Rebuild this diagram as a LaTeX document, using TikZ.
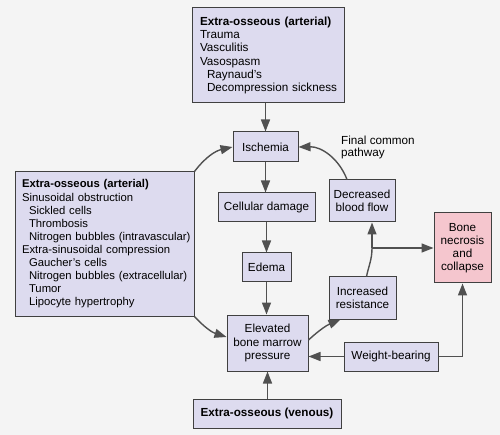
\documentclass[tikz,border=0pt]{standalone}
\usepackage{fontspec}
\setmainfont{Liberation Sans}
\usetikzlibrary{arrows.meta}
\definecolor{bg}{HTML}{F4F4F4}
\definecolor{boxfill}{HTML}{DDDBEF}
\definecolor{pinkfill}{HTML}{F5C6CE}
\definecolor{edge}{HTML}{404040}
\definecolor{linec}{HTML}{505050}
\begin{document}
\begin{tikzpicture}[x=1pt,y=1pt,
  font=\fontsize{11.7}{13.2}\selectfont,
  box/.style={draw=edge, fill=boxfill, line width=1pt, inner sep=2pt, align=center},
  lbox/.style={box, align=left},
  line/.style={draw=linec, line width=1.4pt},
  arr/.style={line, -{Triangle[length=12pt,width=9pt]}}]
\fill[bg] (0,0) rectangle (500,-435);
\useasboundingbox (0,0) rectangle (500,-435);

\node[lbox, text width=136, inner xsep=8, minimum height=95] (top) at (268,-55.5)
  {\textbf{Extra-osseous (arterial)}\\Trauma\\Vasculitis\\Vasospasm\\\hspace*{7pt}Raynaud's\\\hspace*{7pt}\mbox{Decompression sickness}};
\node[lbox, text width=165, inner xsep=7, minimum height=144, font=\fontsize{11.3}{13.1}\selectfont] (left) at (104.5,-244)
  {\textbf{Extra-osseous (arterial)}\\Sinusoidal obstruction\\\hspace*{7pt}Sickled cells\\\hspace*{7pt}Thrombosis\\\hspace*{7pt}\mbox{Nitrogen bubbles (intravascular)}\\\mbox{Extra-sinusoidal compression}\\\hspace*{7pt}Gaucher's cells\\\hspace*{7pt}\mbox{Nitrogen bubbles (extracellular)}\\\hspace*{7pt}Tumor\\\hspace*{7pt}Lipocyte hypertrophy};

\node[box, minimum width=65, minimum height=30] (isch) at (265.5,-147) {Ischemia};
\node[box, minimum width=97, minimum height=29] (cell) at (266.5,-207.5) {Cellular damage};
\node[box, minimum width=49, minimum height=29] (edema) at (266.5,-267.5) {Edema};
\node[box, minimum width=81, minimum height=56] (elev) at (267.5,-343) {Elevated\\bone marrow\\pressure};
\node[box, minimum width=148, minimum height=29] (ven) at (267,-413.5) {\textbf{Extra-osseous (venous)}};
\node[box, minimum width=94, minimum height=29] (weight) at (391,-356.5) {Weight-bearing};
\node[box, minimum width=67, minimum height=42] (inc) at (362.5,-298) {Increased\\resistance};
\node[box, minimum width=66, minimum height=42] (dec) at (362,-201) {Decreased\\blood flow};
\node[box, fill=pinkfill, minimum width=57, minimum height=70] (bone) at (462.5,-248) {Bone\\necrosis\\and\\collapse};
\node[anchor=west, align=left, inner sep=0pt, font=\fontsize{11.7}{12.6}\selectfont] (fcp) at (341,-147.5) {Final common\\pathway};

\draw[arr] (top.south -| isch.north) -- (isch.north);
\draw[arr] (isch.south) -- (isch.south |- cell.north);
\draw[arr] (cell.south) -- (cell.south |- edema.north);
\draw[arr] (edema.south) -- (edema.south |- elev.north);
\draw[arr] (ven.north -| elev.south) -- (elev.south);
\draw[arr] (weight.west) -- (weight.west -| elev.east);
\draw[arr] (weight.east) -| (bone.south);

\draw[arr] (left.north east) to[bend left=20] (isch.west);
\draw[arr] (left.south east) to[bend right=15] ([yshift=6pt]elev.west);
\draw[arr] ([xshift=-15pt]dec.north) to[bend right=35] (isch.east);
\draw[arr] ([yshift=3pt]elev.east) to[bend left=10] ([xshift=-22pt]inc.south);

\coordinate (j) at (372,-248);
\draw[line] ([xshift=4pt]inc.north) to[out=78,in=-90] (j);
\draw[arr] (j) -- (j |- dec.south);
\draw[arr] (j) -- (j -| bone.west);
\end{tikzpicture}
\end{document}
